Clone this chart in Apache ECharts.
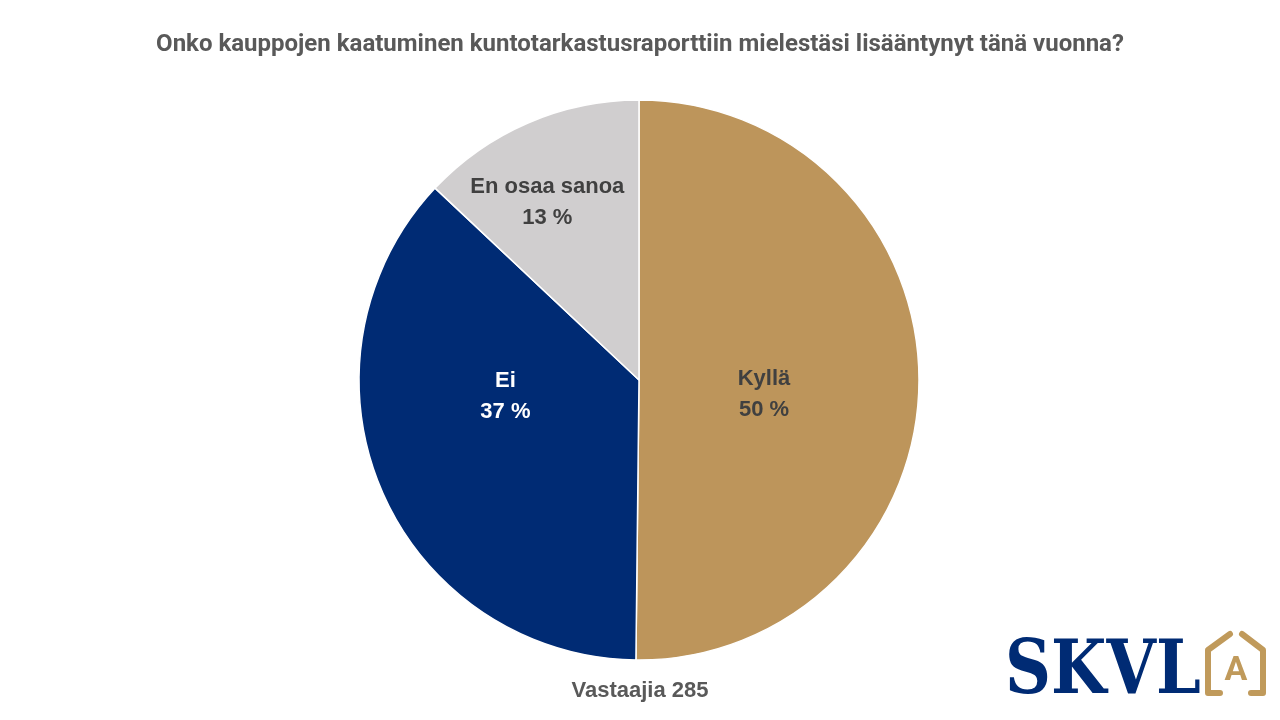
<!DOCTYPE html>
<html>
<head>
    <meta charset="utf-8">
    <title>Kuntotarkastusraportti</title>
    <script src="https://cdn.jsdelivr.net/npm/echarts@6/dist/echarts.min.js"></script>
</head>
<body style="margin: 0; padding: 0; background: #fff;">
<div id="main" style="width: 1280px; height: 720px;"></div>
<script type="text/javascript">
    // vastaukset (lkm), yhteensä 285
    var categories = ['Kyllä', 'Ei', 'En osaa sanoa'];
    var counts = [143, 105, 37];
    var colors = ['#BD955B', '#002B74', '#D0CECF'];
    var labelColors = ['#404040', '#ffffff', '#404040'];
    // label siirrot, jotta ne osuvat samoihin kohtiin kuin alkuperäisessä
    var labelOffsets = [[-18, 14], [-2, -40], [-35, -46]];
    var total = counts.reduce(function (a, b) { return a + b; }, 0);

    var pieData = categories.map(function (name, i) {
        return {
            name: name,
            value: counts[i],
            itemStyle: { color: colors[i] },
            label: { color: labelColors[i], offset: labelOffsets[i] }
        };
    });

    var myChart = echarts.init(document.getElementById('main'));
    var option = {
        animation: false,
        title: {
            text: 'Onko kauppojen kaatuminen kuntotarkastusraporttiin mielestäsi lisääntynyt tänä vuonna?',
            left: 'center',
            top: 28,
            textStyle: { fontFamily: 'Roboto', fontSize: 24, fontWeight: 'bold', color: '#595959' }
        },
        series: [{
            type: 'pie',
            center: [639, 380],
            radius: [0, 280],
            startAngle: 90,
            clockwise: true,
            avoidLabelOverlap: false,
            itemStyle: { borderColor: '#ffffff', borderWidth: 1.5 },
            label: {
                show: true,
                position: 'inside',
                fontFamily: 'Liberation Sans',
                fontSize: 22,
                fontWeight: 'bold',
                lineHeight: 31,
                formatter: function (p) {
                    return p.name + '\n' + Math.round(p.value / total * 100) + ' %';
                }
            },
            labelLine: { show: false },
            emphasis: { disabled: true },
            data: pieData
        }],
        graphic: [
            {
                type: 'text',
                left: 'center',
                top: 680,
                style: { text: 'Vastaajia ' + total, font: 'bold 22px "Liberation Sans"', fill: '#595959' }
            },
            // SKVL logo
            {
                type: 'text',
                x: 1005, y: 711,
                scaleX: 0.85,
                style: { text: 'SKVL', font: 'bold 75px "DejaVu Serif"', fill: '#002B74', verticalAlign: 'bottom' }
            },
            {
                type: 'polyline',
                shape: { points: [[1230, 634], [1208, 650], [1208, 693], [1220, 693]] },
                style: { stroke: '#C09A5B', lineWidth: 6, fill: null, lineCap: 'round', lineJoin: 'round' }
            },
            {
                type: 'polyline',
                shape: { points: [[1242, 634], [1263, 650], [1263, 693], [1251, 693]] },
                style: { stroke: '#C09A5B', lineWidth: 6, fill: null, lineCap: 'round', lineJoin: 'round' }
            },
            {
                type: 'text',
                x: 1236, y: 671,
                style: { text: 'A', font: 'bold 34px Roboto', fill: '#C09A5B', align: 'center', verticalAlign: 'middle' }
            }
        ]
    };
    myChart.setOption(option);
</script>
</body>
</html>
